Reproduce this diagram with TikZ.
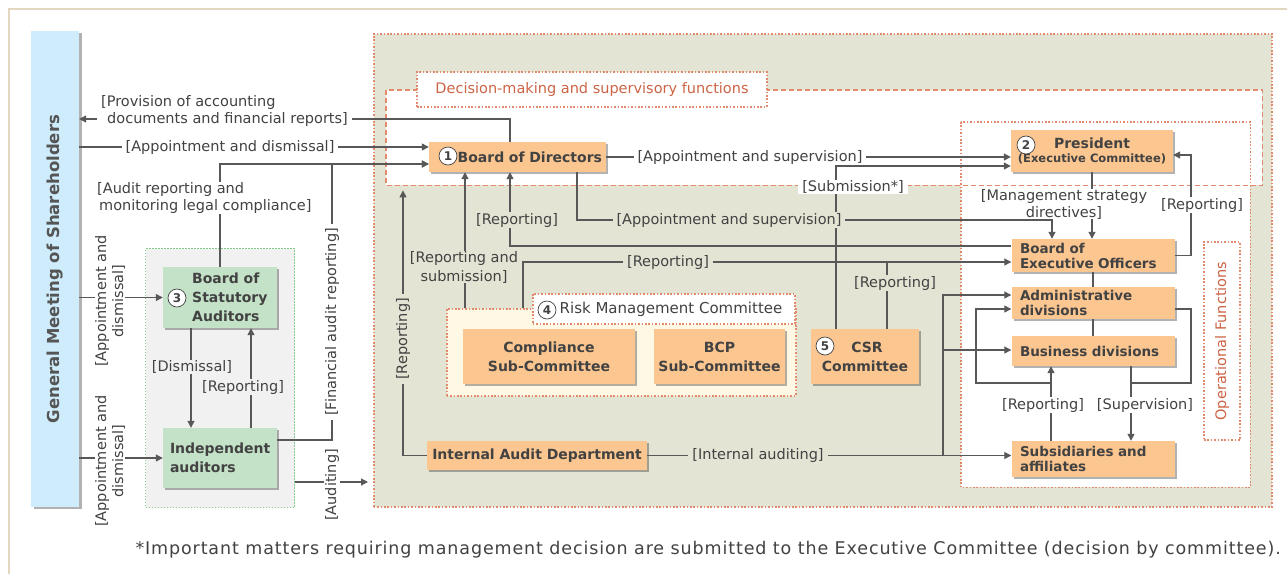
\documentclass[tikz,border=0pt]{standalone}
\usepackage{fontspec}
\setmainfont{DejaVu Sans}
\newfontfamily\notefont{DejaVu Sans}[LetterSpace=5]
\usetikzlibrary{arrows.meta,shadows}
\definecolor{orng}{RGB}{252,198,144}
\definecolor{grn}{RGB}{196,226,199}
\definecolor{sky}{RGB}{206,236,252}
\definecolor{khaki}{RGB}{228,228,213}
\definecolor{pale}{RGB}{241,241,241}
\definecolor{cream}{RGB}{255,248,228}
\definecolor{rust}{RGB}{205,100,70}
\definecolor{salmon}{RGB}{226,138,110}
\definecolor{mint}{RGB}{130,205,140}
\definecolor{ink}{RGB}{66,66,66}
\definecolor{wire}{RGB}{88,88,88}
\definecolor{framec}{RGB}{226,216,192}
\newcommand\lblfont{\fontsize{14.5}{17}\selectfont}
\newcommand\boxfont{\fontsize{14}{15}\selectfont\bfseries}
\tikzset{
  box/.style={fill=orng, text=ink, font=\boxfont, inner sep=0pt,
    drop shadow={shadow xshift=2pt, shadow yshift=-2pt, fill=black, opacity=.3}},
  obox/.style={box, minimum width=163, text width=146, align=left, font=\fontsize{13.5}{15}\selectfont\bfseries},
  gbox/.style={box, fill=grn, font=\fontsize{14}{19}\selectfont\bfseries},
  lbl/.style={text=ink, font=\lblfont, fill=white, inner xsep=4pt, inner ysep=.5pt, align=center},
  num/.style={circle, draw=ink, fill=white, line width=.7pt, inner sep=0pt, minimum size=18pt,
    font=\fontsize{12}{12}\selectfont\bfseries, text=ink},
  link/.style={draw=wire, line width=1.2pt},
  arr/.style={link, -{Triangle[length=7pt,width=7pt]}},
  dotbox/.style={draw=salmon, line width=1.6pt, dash pattern=on 1.6pt off 1.8pt},
  area/.style={inner sep=0pt, anchor=north west},
}
\begin{document}
\begin{tikzpicture}[x=1pt,y=-1pt]
\useasboundingbox (0,0) rectangle (1287,574);
\draw[framec, line width=2pt] (9,574) -- (9,9) -- (1287,9);

% areas
\node[fill=sky, minimum width=48, minimum height=476, inner sep=0pt,
  drop shadow={shadow xshift=3pt, shadow yshift=-2pt, fill=black, opacity=.3}] (gms) at (55,269) {};
\node[rotate=90, text=ink!90, font=\fontsize{16.5}{17}\selectfont\bfseries] (gmstxt) at (gms) {General Meeting of Shareholders};
\node[area, fill=pale, draw=mint, line width=1.2pt, dash pattern=on 1.3pt off 1.7pt,
  minimum width=149, minimum height=259] (aud) at (145,248) {};
\node[area, fill=khaki, dotbox, minimum width=898, minimum height=473] (core) at (373,33) {};
\node[area, fill=white, minimum width=876, minimum height=95] (dec) at (386,90) {};
\node[area, fill=white, minimum width=289, minimum height=365] (opf) at (961,122) {};
\draw[salmon, line width=1.4pt, dash pattern=on 5pt off 3pt] (dec.north west) rectangle (dec.south east);
\draw[dotbox] (opf.north west) rectangle (opf.south east);
\node[fill=white, dotbox, minimum width=350, minimum height=35, text=rust, font=\lblfont] (dectitle) at (592,89.5) {Decision-making and supervisory functions};
\node[fill=white, dotbox, minimum width=36, minimum height=198] (opftitle) at (1222,341) {};
\node[rotate=90, text=rust, font=\lblfont] (opftxt) at (opftitle) {Operational Functions};
\node[area, fill=cream, dotbox, minimum width=349, minimum height=87] (rmc) at (446,308) {};
\node[area, fill=white, dotbox, minimum width=262, minimum height=30] (rmctitle) at (532,293) {};
\node[text=ink, font=\fontsize{15}{15}\selectfont] (rmctxt) at (671,309) {Risk Management Committee};

% boxes
\node[box, minimum width=177, minimum height=30, text width=169, align=right] (bod) at (517.5,157) {Board of Directors};
\node[box, minimum width=162, minimum height=42, align=center] (pres) at (1092,151)
  {President\\[-1pt]{\fontsize{11.5}{12}\selectfont(Executive Committee)}};
\node[obox, minimum height=33] (beo) at (1093,255.5) {Board of\\Executive Officers};
\node[obox, minimum height=32] (adm) at (1093,303) {Administrative\\divisions};
\node[obox, minimum height=30] (bus) at (1093,351) {Business divisions};
\node[obox, minimum height=36] (sub) at (1093,459) {Subsidiaries and\\affiliates};
\node[box, minimum width=108, minimum height=55, align=center, font=\fontsize{14}{19}\selectfont\bfseries] (csr) at (865,356.5) {\hspace*{4pt}CSR\\Committee};
\node[box, minimum width=172, minimum height=55, align=center, font=\fontsize{14}{19}\selectfont\bfseries] (comp) at (549,356.5) {Compliance\\Sub-Committee};
\node[box, minimum width=131, minimum height=55, align=center, font=\fontsize{14}{19}\selectfont\bfseries] (bcp) at (719.5,356.5) {BCP\\Sub-Committee};
\node[box, minimum width=220, minimum height=29] (iad) at (537,455.5) {Internal Audit Department};
\node[gbox, minimum width=114, minimum height=61] (bsa) at (220,297.5) {};
\node[text=ink, font=\fontsize{14}{19}\selectfont\bfseries, align=left, anchor=west, inner sep=0pt] (bsatxt) at (192,297.5) {Board of\\Statutory\\Auditors};
\node[gbox, minimum width=114, minimum height=60, text width=100, align=left] (ind) at (220,458) {Independent\\auditors};

\node[num] (n1) at (448,156) {1};
\node[num] (n2) at (1026,145) {2};
\node[num] (n3) at (177,298) {3};
\node[num] (n4) at (547,310) {4};
\node[num] (n5) at (825,346) {5};

% connectors
\draw[arr] (bod.north -| 510,0) |- (gms.east |- 0,119);
\draw[arr] (gms.east |- 0,147) -- (bod.west |- 0,147);
\draw[arr] (bsa.north) |- (bod.west |- 0,164);
\draw[arr] (ind.east |- 0,440) -| (332,164) -- (bod.west |- 0,164);
\draw[arr] (gms.east |- bsa) -- (bsa.west);
\draw[arr] (gms.east |- ind) -- (ind.west);
\draw[arr] (bsa.south -| 191,0) -- (ind.north -| 191,0);
\draw[arr] (ind.north -| 251,0) -- (bsa.south -| 251,0);
\draw[arr, shorten >=5pt] (aud.east |- 0,482) -- (core.west |- 0,482);
\draw[arr, shorten >=5pt] (iad.west) -| (dec.south -| 403,0);
\draw[arr] (rmc.north -| 465,0) -- (bod.south -| 465,0);
\draw[arr] (beo.west |- 0,246) -| (bod.south -| 510,0);
\draw[arr] (bod.east) -- (pres.west |- bod.east);
\draw[arr] (csr.north -| 836,0) |- (pres.west |- 0,166);
\draw[arr] (bod.south -| 577,0) |- (1052,220) -- (beo.north -| 1052,0);
\draw[arr] (pres.south) -- (pres.south |- beo.north);
\draw[arr] (beo.east) -| (1191,155) -- (pres.east |- 0,155);
\draw[arr] (rmc.north -| 523,0) |- (beo.west |- 0,262);
\draw[link] (csr.north -| 887,0) -- (887,262);
\draw[arr] (iad.east) -- (sub.west |- iad.east);
\draw[arr] (943,455.5) |- (adm.west |- 0,295);
\draw[arr] (943,350) -- (bus.west |- 0,350);
\draw[arr] (sub.north -| 1051,0) -- (bus.south -| 1051,0);
\draw[arr] (1051,383) -| (976,309) -- (adm.west |- 0,309);
\draw[arr] (bus.south -| 1131,0) -- (sub.north -| 1131,0);
\draw[link] (adm.east |- 0,309) -| (1191,383) -- (1131,383);
\foreach \a/\b in {beo/adm, adm/bus}
  \draw[link] (\a.south) -- (\b.north);

% labels
\node[lbl, align=left, anchor=west] (l1) at (97,111) {[Provision of accounting\\\hspace*{6pt}documents and financial reports]};
\node[lbl] (l2) at (230,147) {[Appointment and dismissal]};
\node[lbl, align=left, anchor=west] (l3) at (93,198) {[Audit reporting and\\\hspace*{2pt}monitoring legal compliance]};
\node[lbl, rotate=90] (l4) at (332,322) {[Financial audit reporting]};
\node[lbl, rotate=90] (l5) at (110,301) {[Appointment and\\dismissal]};
\node[lbl, rotate=90] (l6) at (110,461) {[Appointment and\\dismissal]};
\node[lbl, fill=pale] (l7) at (192,367) {[Dismissal]};
\node[lbl, fill=pale] (l8) at (243,387) {[Reporting]};
\node[lbl, rotate=90] (l9) at (332,485) {[Auditing]};
\node[lbl, rotate=90, fill=khaki] (l10) at (403,339) {[Reporting]};
\node[lbl, fill=khaki, inner xsep=1pt, font=\fontsize{14.5}{19}\selectfont] (l11) at (464,267) {[Reporting and\\submission]};
\node[lbl, fill=khaki] (l12) at (517,220) {[Reporting]};
\node[lbl] (l13) at (750,157) {[Appointment and supervision]};
\node[lbl] (l14) at (853,187) {[Submission*]};
\node[lbl, fill=khaki] (l15) at (729,220) {[Appointment and supervision]};
\node[lbl, inner ysep=0pt] (l16) at (1064,204) {[Management strategy\\directives]};
\node[lbl] (l17) at (1202,205) {[Reporting]};
\node[lbl, fill=khaki] (l18) at (668,262) {[Reporting]};
\node[lbl, fill=khaki] (l19) at (895,283) {[Reporting]};
\node[lbl, fill=khaki] (l20) at (758,455.5) {[Internal auditing]};
\node[lbl] (l21) at (1043,405) {[Reporting]};
\node[lbl] (l22) at (1145,405) {[Supervision]};

\node[anchor=east, text=ink, font=\notefont\fontsize{17.5}{18}\selectfont, inner sep=0pt] (note) at (1281,550)
  {*Important matters requiring management decision are submitted to the Executive Committee (decision by committee).};
\end{tikzpicture}
\end{document}
